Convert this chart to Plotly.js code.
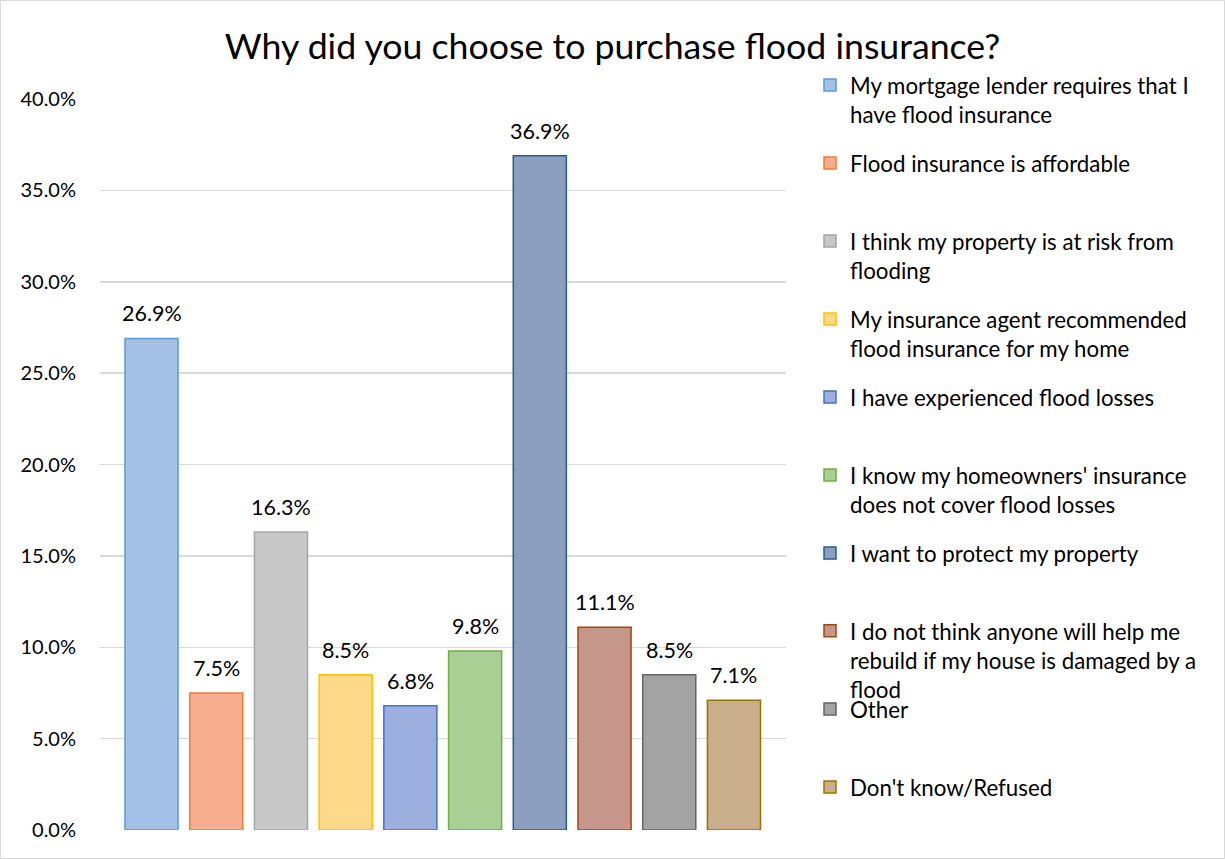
<!DOCTYPE html>
<html>
<head>
<meta charset="utf-8">
<script src="https://cdn.plot.ly/plotly-3.0.1.min.js"></script>
<style>html,body{margin:0;padding:0;background:#fff;}#chart{width:1225px;height:859px;}</style>
</head>
<body>
<div id="chart"></div>
<script>
// ---- data ----
const categories = [
  "My mortgage lender requires that I have flood insurance",
  "Flood insurance is affordable",
  "I think my property is at risk from flooding",
  "My insurance agent recommended flood insurance for my home",
  "I have experienced flood losses",
  "I know my homeowners' insurance does not cover flood losses",
  "I want to protect my property",
  "I do not think anyone will help me rebuild if my house is damaged by a flood",
  "Other",
  "Don't know/Refused"
];
const legendLabels = [
  "My mortgage lender requires that I<br>have flood insurance",
  "Flood insurance is affordable<br> ",
  "I think my property is at risk from<br>flooding",
  "My insurance agent recommended<br>flood insurance for my home",
  "I have experienced flood losses<br> ",
  "I know my homeowners' insurance<br>does not cover flood losses",
  "I want to protect my property<br> ",
  "I do not think anyone will help me<br>rebuild if my house is damaged by a<br>flood",
  "Other<br> ",
  "Don't know/Refused<br> "
];
const values = [26.9, 7.5, 16.3, 8.5, 6.8, 9.8, 36.9, 11.1, 8.5, 7.1];
const fillColors = ["#a3c1e7", "#f6ae8f", "#c8c8c8", "#fed98a", "#9dafdf", "#a9cf95", "#8d9fbf", "#c7968a", "#a3a3a3", "#c8ae8b"];
const lineColors = ["#5b9bd5", "#ed7d31", "#a5a5a5", "#ffc000", "#4472c4", "#70ad47", "#255e91", "#9e480e", "#636363", "#997300"];
const legendIds = ["legend", "legend", "legend", "legend", "legend", "legend", "legend", "legend", "legend2", "legend2"];
const yTicks = [0, 5, 10, 15, 20, 25, 30, 35, 40];

const FONT = "Lato, 'Open Sans', sans-serif";

const traces = categories.map((c, i) => ({
  type: "bar",
  x: [c],
  y: [values[i]],
  name: legendLabels[i],
  legend: legendIds[i],
  legendgroup: "g" + i,
  width: 0.82,
  marker: {color: fillColors[i], line: {color: lineColors[i], width: 1.5}},
  hoverinfo: "skip"
}));

const annotations = categories.map((c, i) => ({
  x: c, y: values[i], xref: "x", yref: "y",
  text: values[i].toFixed(1) + "%",
  showarrow: false, yanchor: "middle", yshift: 25,
  font: {family: FONT, size: 21.5, color: "#000"}
}));

const legendBase = {
  xref: "container", yref: "container", x: 810/1225, xanchor: "left", yanchor: "top",
  valign: "top", font: {family: FONT, size: 22.3, color: "#000"}, bgcolor: "rgba(0,0,0,0)",
  traceorder: "grouped", tracegroupgap: 17, maxheight: 800
};

const layout = {
  width: 1225, height: 859,
  margin: {l: 100, r: 439, t: 99, b: 29},
  paper_bgcolor: "#fff", plot_bgcolor: "#fff",
  barmode: "overlay",
  showlegend: true,
  title: {text: "Why did you choose to purchase flood insurance?", x: 0.5, xanchor: "center", xref: "container",
          y: 1 - 47/859, yanchor: "middle", yref: "container",
          font: {family: FONT, size: 35.7, color: "#000"}},
  xaxis: {type: "category", range: [-0.796, 9.804], showticklabels: false, showgrid: false, zeroline: false, showline: false, ticks: ""},
  yaxis: {range: [0, 40], tickvals: yTicks, ticktext: yTicks.map(v => v.toFixed(1) + "%"),
          showgrid: true, gridcolor: "#d9d9d9", gridwidth: 1.5, zeroline: false, showline: false, ticks: "",
          ticklabelstandoff: 23, tickfont: {family: FONT, size: 20, color: "#000"}},
  legend: Object.assign({}, legendBase, {y: 1 - 64/859}),
  legend2: Object.assign({}, legendBase, {y: 1 - 688/859}),
  annotations: annotations,
  shapes: [{type: "rect", xref: "paper", yref: "paper", x0: -100/686 + 0.0007, x1: (1224.5-100)/686, y0: -28.5/731, y1: 830/731 - 0.0007,
            line: {color: "#d9d9d9", width: 1}, fillcolor: "rgba(0,0,0,0)", layer: "below"}]
};

Plotly.newPlot("chart", traces, layout, {displayModeBar: false, staticPlot: true});
</script>
</body>
</html>
